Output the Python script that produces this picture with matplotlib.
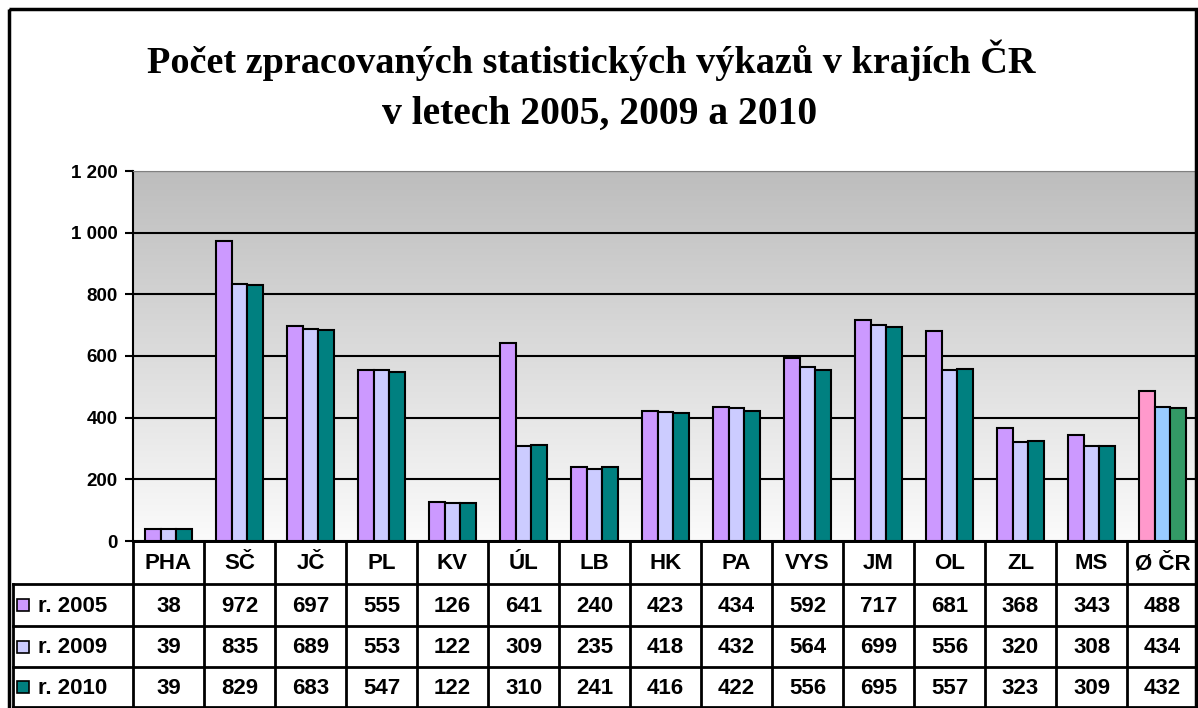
import matplotlib
matplotlib.use("Agg")
import matplotlib.pyplot as plt
import numpy as np
from matplotlib.patches import Rectangle
from matplotlib.ticker import FuncFormatter

regions = ["PHA", "SČ", "JČ", "PL", "KV", "ÚL", "LB", "HK", "PA", "VYS", "JM", "OL", "ZL", "MS", "Ø ČR"]
series_names = ["r. 2005", "r. 2009", "r. 2010"]
values_2005 = [38, 972, 697, 555, 126, 641, 240, 423, 434, 592, 717, 681, 368, 343, 488]
values_2009 = [39, 835, 689, 553, 122, 309, 235, 418, 432, 564, 699, 556, 320, 308, 434]
values_2010 = [39, 829, 683, 547, 122, 310, 241, 416, 422, 556, 695, 557, 323, 309, 432]
series_colors = ["#cc99ff", "#ccccff", "#008080"]
average_colors = ["#ff99cc", "#99ccff", "#339966"]
y_ticks = [0, 200, 400, 600, 800, 1000, 1200]

W, H = 1198, 708
fig = plt.figure(figsize=(W / 100, H / 100), dpi=100)
fig.patch.set_facecolor("white")

# chart area in pixel terms
plot_left, plot_top, plot_bottom = 133, 171, 541
axis = fig.add_axes([plot_left / W, 1 - plot_bottom / H, (W - plot_left) / W, (plot_bottom - plot_top) / H])

gradient = np.linspace(0, 1, 256).reshape(-1, 1)
axis.imshow(gradient, extent=[-0.5, len(regions) - 0.5, 0, 1200], aspect="auto",
            cmap=matplotlib.colors.LinearSegmentedColormap.from_list("bg", ["#fbfbfb", "#bdbdbd"]),
            origin="lower", zorder=0)

x = np.arange(len(regions))
bar_width = 0.217
all_series = [values_2005, values_2009, values_2010]
for s_index, values in enumerate(all_series):
    colors = [series_colors[s_index]] * (len(regions) - 1) + [average_colors[s_index]]
    axis.bar(x + (s_index - 1) * bar_width, values, width=bar_width, color=colors,
             edgecolor="black", linewidth=1.5, zorder=3)

axis.set_xlim(-0.5, len(regions) - 0.5)
axis.set_ylim(0, 1200)
axis.set_yticks(y_ticks)
axis.yaxis.set_major_formatter(FuncFormatter(lambda v, _p: f"{int(v):,}".replace(",", " ")))
for label in axis.get_yticklabels():
    label.set_fontfamily("Liberation Sans")
    label.set_fontweight("bold")
    label.set_fontsize(13.5)
axis.tick_params(axis="y", length=6, width=1.5, pad=5)
axis.set_xticks([])
axis.grid(axis="y", color="black", linewidth=1.5, zorder=1)
axis.set_axisbelow(True)
axis.spines["right"].set_visible(False)
axis.spines["top"].set_color("#808080")
axis.spines["left"].set_linewidth(1.5)
axis.spines["bottom"].set_linewidth(2)

# overlay in pixel coordinates for the frame, title and data table
overlay = fig.add_axes([0, 0, 1, 1], zorder=5)
overlay.set_xlim(0, W)
overlay.set_ylim(H, 0)
overlay.axis("off")
overlay.patch.set_alpha(0)

overlay.add_patch(Rectangle((9, 9), 1187, 710, fill=False, edgecolor="black", linewidth=2.5))

overlay.text(591, 73, "Počet zpracovaných statistických výkazů v krajích ČR",
             ha="center", va="baseline", fontsize=27.5, fontweight="bold", family="Liberation Serif")
overlay.text(600, 124, "v letech 2005, 2009 a 2010",
             ha="center", va="baseline", fontsize=28.5, fontweight="bold", family="Liberation Serif")

col_width = (W - plot_left) / len(regions)
row_edges = [541, 584, 626, 667, 707]
table_left = 13
line_kw = dict(color="black", linewidth=2, solid_capstyle="projecting")

# horizontal lines
overlay.plot([plot_left, W], [row_edges[0]] * 2, **line_kw)
for y in row_edges[1:]:
    overlay.plot([table_left, W], [y, y], **line_kw)
# vertical lines
overlay.plot([table_left, table_left], [row_edges[1], row_edges[-1]], **line_kw)
for i in range(len(regions) + 1):
    xv = plot_left + i * col_width
    overlay.plot([xv, xv], [row_edges[0], row_edges[-1]], **line_kw)

text_kw = dict(fontsize=16, fontweight="bold", family="Liberation Sans", va="center")
for i, name in enumerate(regions):
    cx = plot_left + (i + 0.5) * col_width
    overlay.text(cx, (row_edges[0] + row_edges[1]) / 2 + 1, name, ha="center", **text_kw)
    for r, values in enumerate(all_series):
        overlay.text(cx, (row_edges[r + 1] + row_edges[r + 2]) / 2 + 1, str(values[i]), ha="center", **text_kw)

for r, name in enumerate(series_names):
    cy = (row_edges[r + 1] + row_edges[r + 2]) / 2
    overlay.add_patch(Rectangle((17, cy - 6), 12, 12, facecolor=series_colors[r], edgecolor="black", linewidth=1.2))
    overlay.text(38, cy + 1, name, ha="left", **text_kw)

fig.savefig("out.png", dpi=100)
